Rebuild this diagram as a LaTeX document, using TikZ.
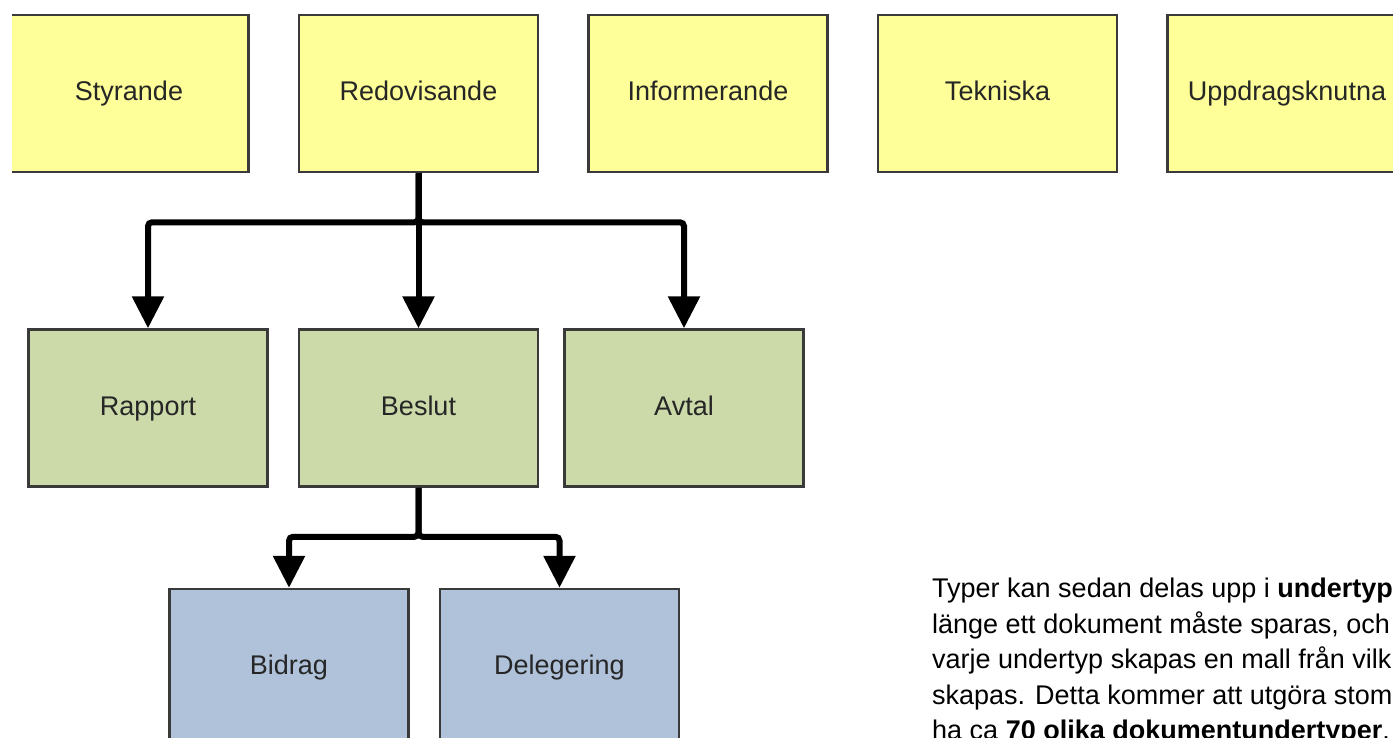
\documentclass[tikz,border=0pt]{standalone}
\usepackage{fontspec}
\setmainfont{Liberation Sans}
\usepackage{tikz}
\usetikzlibrary{positioning}
\usetikzlibrary{arrows.meta}
\usepackage{xcolor}
\definecolor{typyellow}{HTML}{FFFF99}
\definecolor{typgreen}{HTML}{CCDAAA}
\definecolor{typblue}{HTML}{AFC2DA}
\definecolor{typedge}{HTML}{3A3A3A}

\begin{document}
\begin{tikzpicture}[x=1pt, y=-1pt, >={Triangle[width=31pt,length=32pt]},
    box/.style={draw=typedge, line width=2.5pt, minimum width=239pt, minimum height=157pt,
        inner sep=0pt, text height=19pt, text depth=5pt, text=black!85, font=\fontsize{27}{32}\selectfont},
    link/.style={->, line width=6pt, rounded corners=4pt}]
    \useasboundingbox (0,0) rectangle (1393,737);
    \clip (12,0) rectangle (1393,737);

    \node[box, fill=typyellow] (styr) at (129,93.5) {Styrande};
    \node[box, fill=typyellow, right=48pt of styr] (redov) {Redovisande};
    \node[box, fill=typyellow, right=48pt of redov] (inform) {Informerande};
    \node[box, fill=typyellow, right=48pt of inform] (tekn) {Tekniska};
    \node[box, fill=typyellow, right=48pt of tekn] (uppdr) {Uppdragsknutna};

    \node[box, fill=typgreen, below=155pt of redov] (beslut) {Beslut};
    \node[box, fill=typgreen, left=29pt of beslut] (rapport) {Rapport};
    \node[box, fill=typgreen, right=24pt of beslut] (avtal) {Avtal};

    \node[box, fill=typblue, below=100pt of beslut, xshift=-129.5pt] (bidrag) {Bidrag};
    \node[box, fill=typblue, right=29pt of bidrag] (deleg) {Delegering};

    \draw[link] (redov.south) -- ++(0,49) -| (rapport.north);
    \draw[link] (redov.south) -- (beslut.north);
    \draw[link] (redov.south) -- ++(0,49) -| (avtal.north);
    \draw[link] (beslut.south) -- ++(0,49) -| (bidrag.north);
    \draw[link] (beslut.south) -- ++(0,49) -| (deleg.north);

    \node[anchor=north west, inner sep=0pt, align=left, font=\fontsize{27}{35.5}\selectfont] (info) at (932,578)
        {Typer kan sedan delas upp i \textbf{undertyp}\\
         länge ett dokument måste sparas, och\\
         varje undertyp skapas en mall från vilk\\
         skapas. Detta kommer att utgöra stom\\
         ha ca \textbf{70 olika dokumentundertyper}.};
\end{tikzpicture}
\end{document}
